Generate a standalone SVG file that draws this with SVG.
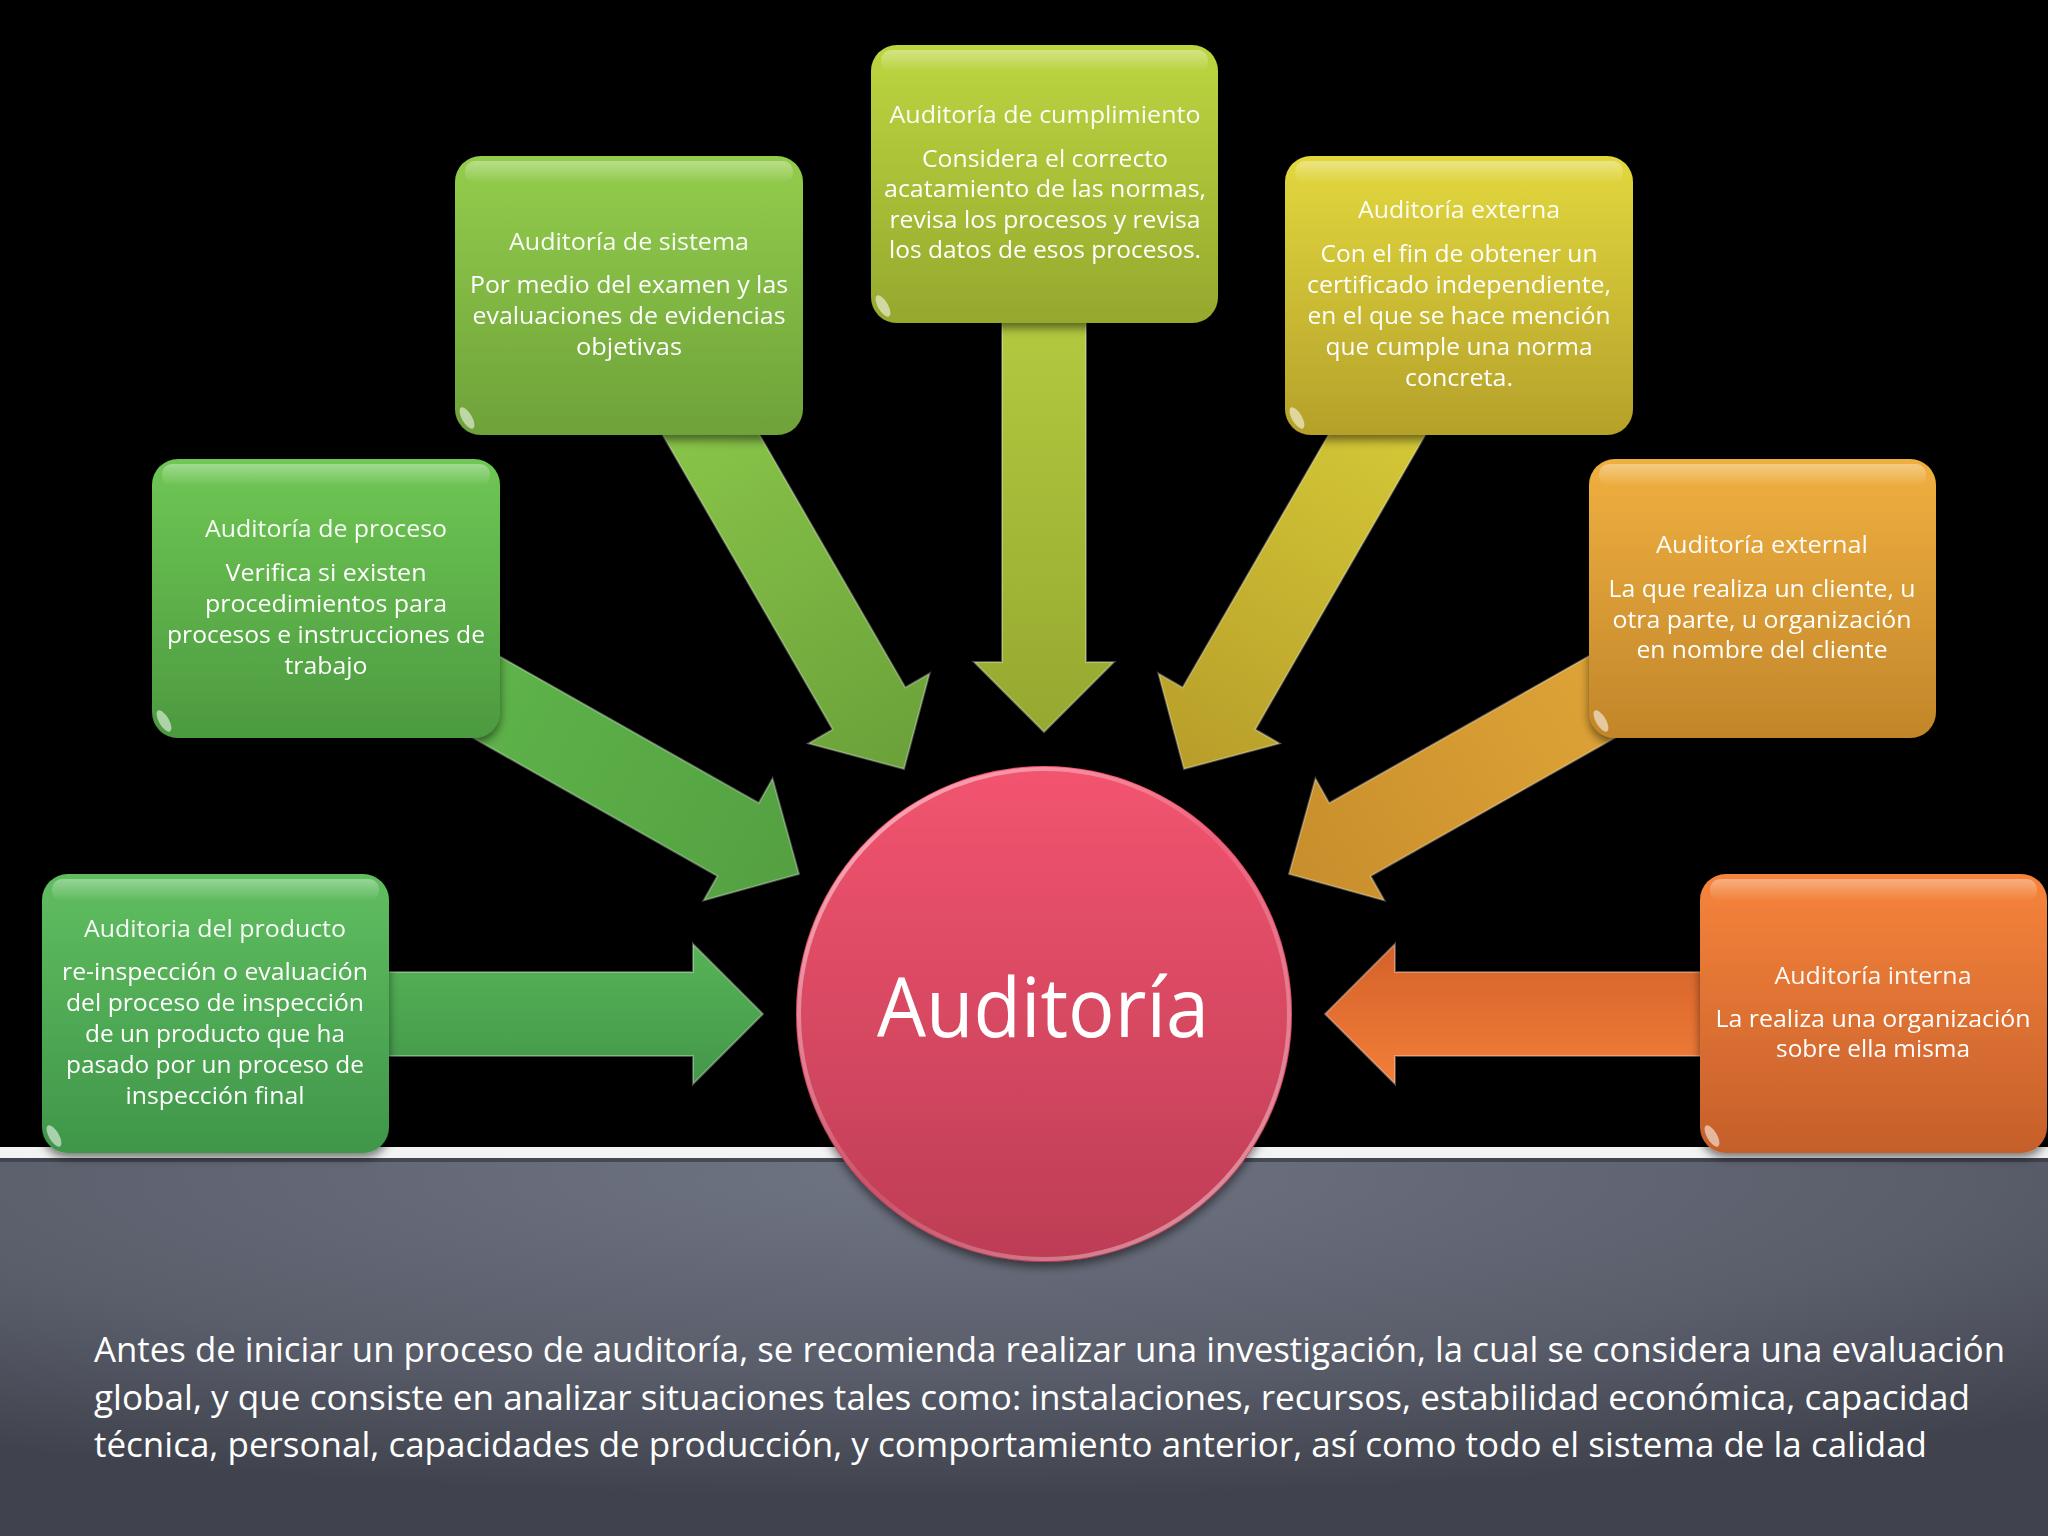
<svg xmlns="http://www.w3.org/2000/svg" width="2048" height="1536" viewBox="0 0 2048 1536">
  <defs>
    <style>
      .t { font-family: "Open Sans", "Liberation Sans", sans-serif; font-size: 24px; fill: #ffffff; text-anchor: middle; }
      .h { font-family: "Open Sans", "Liberation Sans", sans-serif; font-size: 24px; fill: #ffffff; fill-opacity: 0.95; text-anchor: middle; }
      .p { font-family: "Open Sans", "Liberation Sans", sans-serif; font-size: 35px; fill: #ffffff; }
      .gloss { fill: url(#gloss); }
      .arrow { stroke: #ffffff; stroke-opacity: 0.3; stroke-width: 2; stroke-linejoin: miter; }
      .spot { fill: #ffffff; fill-opacity: 0.55; }
    </style>
    <radialGradient id="bg" cx="0.45" cy="0.05" r="0.85">
      <stop offset="0" stop-color="#6f7483"/>
      <stop offset="0.6" stop-color="#5a5e6b"/>
      <stop offset="1" stop-color="#40434d"/>
    </radialGradient>
    <linearGradient id="gloss" x1="0" y1="0" x2="0" y2="1">
      <stop offset="0" stop-color="#ffffff" stop-opacity="0.35"/>
      <stop offset="1" stop-color="#ffffff" stop-opacity="0"/>
    </linearGradient>
    <linearGradient id="gProd" x1="0" y1="0" x2="0" y2="1"><stop offset="0" stop-color="#60be5f"/><stop offset="1" stop-color="#3f964a"/></linearGradient>
    <linearGradient id="gProc" x1="0" y1="0" x2="0" y2="1"><stop offset="0" stop-color="#6fc754"/><stop offset="1" stop-color="#4c9a40"/></linearGradient>
    <linearGradient id="gSist" x1="0" y1="0" x2="0" y2="1"><stop offset="0" stop-color="#94cd4c"/><stop offset="1" stop-color="#6ea23a"/></linearGradient>
    <linearGradient id="gCump" x1="0" y1="0" x2="0" y2="1"><stop offset="0" stop-color="#bcd640"/><stop offset="1" stop-color="#96a82e"/></linearGradient>
    <linearGradient id="gExta" x1="0" y1="0" x2="0" y2="1"><stop offset="0" stop-color="#e2d83e"/><stop offset="1" stop-color="#b5a12a"/></linearGradient>
    <linearGradient id="gExtl" x1="0" y1="0" x2="0" y2="1"><stop offset="0" stop-color="#f0b040"/><stop offset="1" stop-color="#c2862a"/></linearGradient>
    <linearGradient id="gInt" x1="0" y1="0" x2="0" y2="1"><stop offset="0" stop-color="#f6843c"/><stop offset="1" stop-color="#c55f2a"/></linearGradient>
    <linearGradient id="aProd" x1="0" y1="0" x2="0" y2="1"><stop offset="0" stop-color="#56b356"/><stop offset="1" stop-color="#43974a"/></linearGradient>
    <linearGradient id="aProc" x1="0" y1="0" x2="1" y2="0"><stop offset="0" stop-color="#62ba4c"/><stop offset="1" stop-color="#54a042"/></linearGradient>
    <linearGradient id="aSist" x1="0" y1="0" x2="1" y2="0"><stop offset="0" stop-color="#8cc84a"/><stop offset="1" stop-color="#6aa13a"/></linearGradient>
    <linearGradient id="aCump" x1="0" y1="0" x2="1" y2="0"><stop offset="0" stop-color="#b4cc40"/><stop offset="1" stop-color="#96a830"/></linearGradient>
    <linearGradient id="aExta" x1="0" y1="0" x2="1" y2="0"><stop offset="0" stop-color="#d6cc38"/><stop offset="1" stop-color="#b89e2a"/></linearGradient>
    <linearGradient id="aExtl" x1="0" y1="0" x2="1" y2="0"><stop offset="0" stop-color="#e6aa3a"/><stop offset="1" stop-color="#c88e2c"/></linearGradient>
    <linearGradient id="aInt" x1="0" y1="0" x2="0" y2="1"><stop offset="0" stop-color="#f27e38"/><stop offset="1" stop-color="#d4622a"/></linearGradient>
    <linearGradient id="gCirc" x1="0" y1="0" x2="0" y2="1">
      <stop offset="0" stop-color="#f3546f"/>
      <stop offset="1" stop-color="#bd3d55"/>
    </linearGradient>
    <linearGradient id="rim" x1="0" y1="0" x2="1" y2="1">
      <stop offset="0" stop-color="#ffffff" stop-opacity="0.6"/>
      <stop offset="0.5" stop-color="#ffffff" stop-opacity="0.1"/>
      <stop offset="1" stop-color="#ffffff" stop-opacity="0.5"/>
    </linearGradient>
    <filter id="shadow" x="-10%" y="-10%" width="120%" height="125%">
      <feDropShadow dx="0" dy="5" stdDeviation="5" flood-color="#000000" flood-opacity="0.5"/>
    </filter>
  </defs>

  <!-- background -->
  <rect x="0" y="0" width="2048" height="1536" fill="#000000"/>
  <rect x="0" y="1158" width="2048" height="378" fill="url(#bg)"/>
  <rect x="0" y="1147" width="2048" height="11" fill="#f3f3f3"/>
  <rect x="0" y="1158" width="2048" height="4" fill="#2f323a" fill-opacity="0.6"/>

  <!-- connectors -->
  <g id="connectors">
    <g transform="translate(763,1014)"><polygon class="arrow" fill="url(#aProd)" points="-463,-42 -70,-42 -70,-70 0,0 -70,70 -70,42 -463,42"/></g>
    <g transform="translate(799,874) rotate(29.5)"><polygon class="arrow" fill="url(#aProc)" points="-500,-42 -70,-42 -70,-70 0,0 -70,70 -70,42 -500,42"/></g>
    <g transform="translate(904,769) rotate(60)"><polygon class="arrow" fill="url(#aSist)" points="-450,-42 -70,-42 -70,-70 0,0 -70,70 -70,42 -450,42"/></g>
    <g transform="translate(1044,732) rotate(90)"><polygon class="arrow" fill="url(#aCump)" points="-450,-42 -70,-42 -70,-70 0,0 -70,70 -70,42 -450,42"/></g>
    <g transform="translate(1184,769) rotate(120)"><polygon class="arrow" fill="url(#aExta)" points="-450,-42 -70,-42 -70,-70 0,0 -70,70 -70,42 -450,42"/></g>
    <g transform="translate(1289,874) rotate(150.5)"><polygon class="arrow" fill="url(#aExtl)" points="-500,-42 -70,-42 -70,-70 0,0 -70,70 -70,42 -500,42"/></g>
    <g transform="translate(1325,1014) rotate(180)"><polygon class="arrow" fill="url(#aInt)" points="-463,-42 -70,-42 -70,-70 0,0 -70,70 -70,42 -463,42"/></g>
  </g>

  <!-- nodes -->
  <g id="node-producto" filter="url(#shadow)">
    <rect x="42" y="874" width="347" height="279" rx="26" fill="url(#gProd)"/>
    <rect class="gloss" x="52" y="879" width="327" height="22" rx="10"/>
    <ellipse class="spot" cx="54" cy="1136" rx="5" ry="12" transform="rotate(-30 54 1136)"/>
    <text class="h" x="215" y="937" textLength="262" lengthAdjust="spacingAndGlyphs">Auditoria del producto</text>
    <text class="t" x="215" y="980" textLength="306" lengthAdjust="spacingAndGlyphs">re-inspección o evaluación</text>
    <text class="t" x="215" y="1011" textLength="298" lengthAdjust="spacingAndGlyphs">del proceso de inspección</text>
    <text class="t" x="215" y="1042" textLength="260" lengthAdjust="spacingAndGlyphs">de un producto que ha</text>
    <text class="t" x="215" y="1073" textLength="298" lengthAdjust="spacingAndGlyphs">pasado por un proceso de</text>
    <text class="t" x="215" y="1104" textLength="179" lengthAdjust="spacingAndGlyphs">inspección final</text>
  </g>

  <g id="node-proceso" filter="url(#shadow)">
    <rect x="152" y="459" width="348" height="279" rx="26" fill="url(#gProc)"/>
    <rect class="gloss" x="162" y="464" width="328" height="22" rx="10"/>
    <ellipse class="spot" cx="164" cy="721" rx="5" ry="12" transform="rotate(-30 164 721)"/>
    <text class="h" x="326" y="537" textLength="242" lengthAdjust="spacingAndGlyphs">Auditoría de proceso</text>
    <text class="t" x="326" y="581" textLength="201" lengthAdjust="spacingAndGlyphs">Verifica si existen</text>
    <text class="t" x="326" y="612" textLength="242" lengthAdjust="spacingAndGlyphs">procedimientos para</text>
    <text class="t" x="326" y="643" textLength="318" lengthAdjust="spacingAndGlyphs">procesos e instrucciones de</text>
    <text class="t" x="326" y="674" textLength="83" lengthAdjust="spacingAndGlyphs">trabajo</text>
  </g>

  <g id="node-sistema" filter="url(#shadow)">
    <rect x="455" y="156" width="348" height="279" rx="26" fill="url(#gSist)"/>
    <rect class="gloss" x="465" y="161" width="328" height="22" rx="10"/>
    <ellipse class="spot" cx="467" cy="418" rx="5" ry="12" transform="rotate(-30 467 418)"/>
    <text class="h" x="629" y="250" textLength="240" lengthAdjust="spacingAndGlyphs">Auditoría de sistema</text>
    <text class="t" x="629" y="293" textLength="318" lengthAdjust="spacingAndGlyphs">Por medio del examen y las</text>
    <text class="t" x="629" y="324" textLength="313" lengthAdjust="spacingAndGlyphs">evaluaciones de evidencias</text>
    <text class="t" x="629" y="355" textLength="106" lengthAdjust="spacingAndGlyphs">objetivas</text>
  </g>

  <g id="node-cumplimiento" filter="url(#shadow)">
    <rect x="871" y="45" width="347" height="278" rx="26" fill="url(#gCump)"/>
    <rect class="gloss" x="881" y="50" width="327" height="22" rx="10"/>
    <ellipse class="spot" cx="883" cy="306" rx="5" ry="12" transform="rotate(-30 883 306)"/>
    <text class="h" x="1045" y="123" textLength="311" lengthAdjust="spacingAndGlyphs">Auditoría de cumplimiento</text>
    <text class="t" x="1045" y="167" textLength="246" lengthAdjust="spacingAndGlyphs">Considera el correcto</text>
    <text class="t" x="1045" y="197" textLength="322" lengthAdjust="spacingAndGlyphs">acatamiento de las normas,</text>
    <text class="t" x="1045" y="228" textLength="311" lengthAdjust="spacingAndGlyphs">revisa los procesos y revisa</text>
    <text class="t" x="1045" y="258" textLength="312" lengthAdjust="spacingAndGlyphs">los datos de esos procesos.</text>
  </g>

  <g id="node-externa" filter="url(#shadow)">
    <rect x="1285" y="156" width="348" height="279" rx="26" fill="url(#gExta)"/>
    <rect class="gloss" x="1295" y="161" width="328" height="22" rx="10"/>
    <ellipse class="spot" cx="1297" cy="418" rx="5" ry="12" transform="rotate(-30 1297 418)"/>
    <text class="h" x="1459" y="218" textLength="202" lengthAdjust="spacingAndGlyphs">Auditoría externa</text>
    <text class="t" x="1459" y="262" textLength="277" lengthAdjust="spacingAndGlyphs">Con el fin de obtener un</text>
    <text class="t" x="1459" y="293" textLength="304" lengthAdjust="spacingAndGlyphs">certificado independiente,</text>
    <text class="t" x="1459" y="324" textLength="303" lengthAdjust="spacingAndGlyphs">en el que se hace mención</text>
    <text class="t" x="1459" y="355" textLength="267" lengthAdjust="spacingAndGlyphs">que cumple una norma</text>
    <text class="t" x="1459" y="386" textLength="108" lengthAdjust="spacingAndGlyphs">concreta.</text>
  </g>

  <g id="node-external" filter="url(#shadow)">
    <rect x="1589" y="459" width="347" height="279" rx="26" fill="url(#gExtl)"/>
    <rect class="gloss" x="1599" y="464" width="327" height="22" rx="10"/>
    <ellipse class="spot" cx="1601" cy="721" rx="5" ry="12" transform="rotate(-30 1601 721)"/>
    <text class="h" x="1762" y="553" textLength="212" lengthAdjust="spacingAndGlyphs">Auditoría external</text>
    <text class="t" x="1762" y="597" textLength="307" lengthAdjust="spacingAndGlyphs">La que realiza un cliente, u</text>
    <text class="t" x="1762" y="628" textLength="299" lengthAdjust="spacingAndGlyphs">otra parte, u organización</text>
    <text class="t" x="1762" y="658" textLength="251" lengthAdjust="spacingAndGlyphs">en nombre del cliente</text>
  </g>

  <g id="node-interna" filter="url(#shadow)">
    <rect x="1700" y="874" width="347" height="279" rx="26" fill="url(#gInt)"/>
    <rect class="gloss" x="1710" y="879" width="327" height="22" rx="10"/>
    <ellipse class="spot" cx="1712" cy="1136" rx="5" ry="12" transform="rotate(-30 1712 1136)"/>
    <text class="h" x="1873" y="984" textLength="197" lengthAdjust="spacingAndGlyphs">Auditoría interna</text>
    <text class="t" x="1873" y="1027" textLength="315" lengthAdjust="spacingAndGlyphs">La realiza una organización</text>
    <text class="t" x="1873" y="1057" textLength="194" lengthAdjust="spacingAndGlyphs">sobre ella misma</text>
  </g>

  <g id="node-auditoria" filter="url(#shadow)">
    <circle cx="1044" cy="1014" r="248" fill="url(#gCirc)"/>
    <circle cx="1044" cy="1014" r="245" fill="none" stroke="url(#rim)" stroke-width="4"/>
    <text x="1043" y="1037" font-family="'Open Sans', 'Liberation Sans', sans-serif" font-size="82" fill="#ffffff" text-anchor="middle" textLength="332" lengthAdjust="spacingAndGlyphs">Auditoría</text>
  </g>

  <!-- paragraph -->
  <g id="paragraph">
    <text class="p" x="94" y="1362" textLength="1911" lengthAdjust="spacingAndGlyphs">Antes de iniciar un proceso de auditoría, se recomienda realizar una investigación, la cual se considera una evaluación</text>
    <text class="p" x="94" y="1410" textLength="1876" lengthAdjust="spacingAndGlyphs">global, y que consiste en analizar situaciones tales como: instalaciones, recursos, estabilidad económica, capacidad</text>
    <text class="p" x="94" y="1457" textLength="1833" lengthAdjust="spacingAndGlyphs">técnica, personal, capacidades de producción, y comportamiento anterior, así como todo el sistema de la calidad</text>
  </g>
</svg>
